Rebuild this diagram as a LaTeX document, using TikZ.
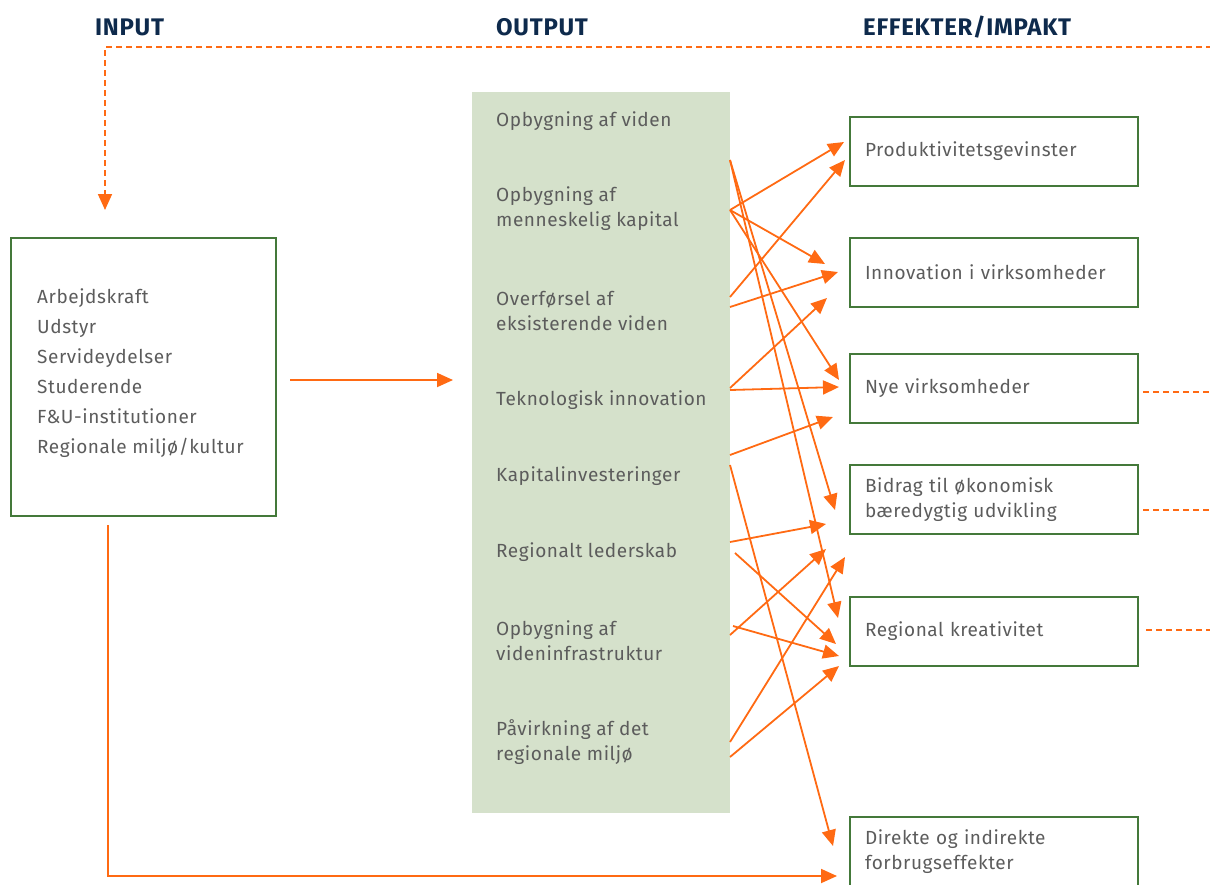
\documentclass[tikz,border=0pt]{standalone}
\usepackage{fontspec}
\setmainfont{Fira Sans}[LetterSpace=3]
\usetikzlibrary{arrows.meta}
\definecolor{orng}{HTML}{FF6A13}
\definecolor{boxgreen}{HTML}{44793A}
\definecolor{fillgreen}{HTML}{D5E1CB}
\definecolor{navy}{HTML}{0E2A4C}
\definecolor{txtgray}{HTML}{5C5C5C}

\begin{document}
\begin{tikzpicture}
  [x=1pt,y=-1pt,
   every node/.style={inner sep=0pt,text=txtgray,font=\fontsize{19}{25}\selectfont},
   head/.style={anchor=west,text=navy,font=\fontsize{24}{24}\selectfont\bfseries},
   item/.style={anchor=west,align=left},
   effbox/.style={draw=boxgreen,line width=2pt,anchor=north west,minimum width=288pt,
     minimum height=69pt,text width=258pt,inner xsep=15pt,align=left},
   link/.style={draw=orng,line width=1.8pt,-{Triangle[length=16pt,width=14pt]}},
   dashlink/.style={draw=orng,line width=1.8pt,dash pattern=on 6pt off 4pt}]
  \useasboundingbox (0,0) rectangle (1210,884);
  % headings
  \node[head] (hin) at (95,27) {INPUT};
  \node[head] (hout) at (496,27) {OUTPUT};
  \node[head] (heff) at (863,27) {EFFEKTER/IMPAKT};
  % input
  \node[draw=boxgreen,line width=2pt,anchor=north west,minimum width=265pt,minimum height=278pt] (input) at (10,237) {};
  \node[item,font=\fontsize{19}{30}\selectfont] (inlist) at (37,373)
    {Arbejdskraft\\Udstyr\\Servideydelser\\Studerende\\F\&U-institutioner\\Regionale milj\o/kultur};
  % output
  \node[fill=fillgreen,anchor=north west,minimum width=258pt,minimum height=721pt] (output) at (472,92) {};
  \node[item] (oa) at (496,121) {Opbygning af viden};
  \node[item] (ob) at (496,209) {Opbygning af\\menneskelig kapital};
  \node[item] (oc) at (496,311) {Overf\o rsel af\\eksisterende viden};
  \node[item] (od) at (496,400) {Teknologisk innovation};
  \node[item] (oe) at (496,476) {Kapitalinvesteringer};
  \node[item] (of) at (496,552) {Regionalt lederskab};
  \node[item] (og) at (496,641) {Opbygning af\\videninfrastruktur};
  \node[item] (oh) at (496,742) {P\aa virkning af det\\regionale milj\o};
  % effekter
  \node[effbox] (ea) at (849,116) {Produktivitetsgevinster};
  \node[effbox] (eb) at (849,237) {Innovation i virksomheder};
  \node[effbox] (ec) at (849,353) {Nye virksomheder};
  \node[effbox] (ed) at (849,464) {Bidrag til \o konomisk\\b\ae redygtig udvikling};
  \node[effbox] (ee) at (849,596) {Regional kreativitet};
  \node[effbox] (ef) at (849,816) {Direkte og indirekte\\forbrugseffekter};
  % arrow ends on the output edge
  \coordinate (sa) at (730,160);
  \coordinate (sb) at (730,210);
  \coordinate (sc) at (730,297);
  \coordinate (sd) at (730,307);
  \coordinate (se) at (730,388);
  \coordinate (sf) at (730,390);
  \coordinate (sg) at (730,455);
  \coordinate (sh) at (730,465);
  \coordinate (si) at (730,542);
  \coordinate (sj) at (735,553);
  \coordinate (sk) at (733,626);
  \coordinate (sl) at (730,635);
  \coordinate (sm) at (730,742);
  \coordinate (sn) at (730,757);
  % arrow tips
  \coordinate (ta) at (844,142);
  \coordinate (tb) at (845,160);
  \coordinate (tc) at (825,264);
  \coordinate (td) at (838,272);
  \coordinate (te) at (827,298);
  \coordinate (tf) at (839,380);
  \coordinate (tg) at (839,387);
  \coordinate (th) at (833,417);
  \coordinate (ti) at (835,510);
  \coordinate (tj) at (826,524);
  \coordinate (tk) at (826,549);
  \coordinate (tl) at (845,557);
  \coordinate (tm) at (838,618);
  \coordinate (tn) at (836,644);
  \coordinate (to) at (839,656);
  \coordinate (tp) at (839,666);
  \coordinate (tq) at (833,846);
  \foreach \from/\to in {sb/ta,sc/tb,sb/tc,sd/td,se/te,sb/tf,sf/tg,sg/th,sa/ti,si/tj,
      sl/tk,sm/tl,sa/tm,sj/tn,sk/to,sn/tp,sh/tq}
    \draw[link] (\from) -- (\to);
  % input to output, and input to forbrug
  \coordinate (ia) at (290,380);
  \coordinate (ib) at (453,380);
  \draw[link] (ia) -- (ib);
  \coordinate (ic) at (108,525);
  \coordinate (id) at (837,876);
  \draw[link] (ic) |- (id);
  % feedback
  \coordinate (fa) at (1212,47);
  \coordinate (fb) at (105,210);
  \draw[dashlink,-{Triangle[length=16pt,width=14pt]}] (fa) -| (fb);
  \coordinate (fc) at (1143,392);
  \coordinate (fd) at (1143,510);
  \coordinate (fe) at (1146,630);
  \foreach \from in {fc,fd,fe}
    \draw[dashlink] (\from) -- ++(70,0);
\end{tikzpicture}
\end{document}
